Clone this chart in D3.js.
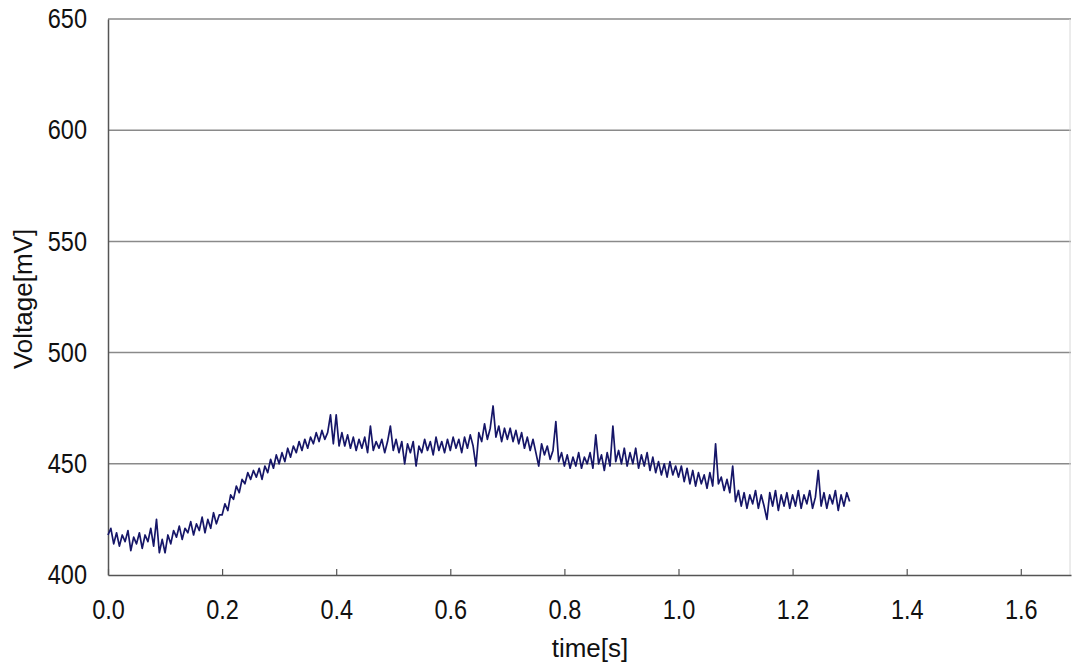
<!DOCTYPE html>
<html>
<head>
<meta charset="utf-8">
<script src="https://cdn.jsdelivr.net/npm/d3@7"></script>
<style>
  html, body { margin: 0; padding: 0; background: #fff; }
  svg { display: block; }
</style>
</head>
<body>
<div id="chart"></div>
<script>
// sample step of the trace (s) and voltage readings (mV), one row per 0.1 s
const timeStep = 0.005;
const voltage = [
  418, 421, 414, 419, 413, 418, 415, 420, 411, 417, 414, 419, 412, 418, 415, 421, 413, 425, 410, 416,
  410, 418, 414, 420, 417, 422, 416, 421, 419, 424, 418, 423, 420, 426, 419, 425, 421, 428, 423, 427,
  427, 432, 429, 436, 434, 440, 437, 443, 441, 446, 443, 447, 444, 448, 443, 449, 446, 452, 448, 454,
  450, 455, 451, 457, 453, 458, 455, 460, 456, 461, 457, 462, 459, 464, 460, 465, 461, 464, 472, 459,
  472, 458, 464, 458, 463, 457, 462, 456, 461, 457, 462, 455, 467, 456, 460, 457, 461, 455, 460, 467,
  456, 461, 455, 460, 450, 459, 455, 460, 449, 458, 455, 461, 456, 460, 454, 462, 456, 460, 455, 461,
  456, 462, 457, 461, 455, 462, 457, 463, 458, 449, 464, 460, 468, 461, 466, 476, 462, 467, 460, 466,
  461, 466, 460, 465, 459, 464, 457, 462, 456, 461, 455, 449, 459, 454, 458, 452, 456, 469, 451, 455,
  449, 454, 448, 453, 449, 455, 448, 453, 450, 455, 448, 463, 450, 454, 447, 455, 449, 467, 451, 456,
  450, 457, 449, 455, 450, 457, 448, 454, 449, 455, 447, 453, 446, 451, 445, 450, 444, 451, 445, 449,
  444, 449, 442, 448, 441, 447, 440, 446, 441, 445, 439, 446, 440, 459, 441, 444, 438, 443, 437, 449,
  433, 438, 431, 437, 430, 436, 432, 438, 430, 436, 431, 425, 437, 431, 438, 429, 436, 431, 437, 430,
  436, 431, 438, 430, 436, 432, 438, 430, 435, 447, 431, 437, 430, 436, 432, 438, 429, 436, 431, 437,
  433
];
const xTicks = [0, 0.2, 0.4, 0.6, 0.8, 1.0, 1.2, 1.4, 1.6];
const yTicks = [400, 450, 500, 550, 600, 650];

const width = 1072, height = 666;
const margin = { top: 19, right: 1, bottom: 91, left: 108 };
const innerW = width - margin.left - margin.right;
const innerH = height - margin.top - margin.bottom;

// tick numbers in the picture are set in a slightly condensed face
const squeeze = 0.87;

const data = voltage.map((v, i) => ({ t: i * timeStep, v: v }));

const svg = d3.select("#chart")
  .append("svg")
  .attr("width", width)
  .attr("height", height)
  .style("font-family", "'Liberation Sans', Arial, sans-serif");

const g = svg.append("g")
  .attr("transform", `translate(${margin.left}, ${margin.top})`);

// x range ends where the picture is cropped (~1.69 s)
const x = d3.scaleLinear().domain([0, 1.688]).range([0, innerW]);
const y = d3.scaleLinear().domain([400, 650]).range([innerH, 0]);

// horizontal gridlines
g.append("g")
  .selectAll("line")
  .data(yTicks.filter(d => d > 400))
  .enter()
  .append("line")
  .attr("x1", 0)
  .attr("x2", innerW)
  .attr("y1", d => y(d))
  .attr("y2", d => y(d))
  .attr("stroke", "#8a8a8a")
  .attr("stroke-width", 1.5);

// faint right edge of the plot area
g.append("line")
  .attr("x1", innerW - 1).attr("x2", innerW - 1)
  .attr("y1", 0).attr("y2", innerH)
  .attr("stroke", "#d8d8d8")
  .attr("stroke-width", 1);

// x axis, ticks pointing up into the plot
const xAxis = g.append("g")
  .attr("transform", `translate(0, ${innerH})`)
  .call(d3.axisBottom(x).tickValues(xTicks).tickFormat(d3.format(".1f"))
    .tickSizeInner(-6).tickSizeOuter(0).tickPadding(25));
xAxis.select(".domain").attr("stroke", "#555").attr("stroke-width", 1.5);
xAxis.selectAll(".tick line").attr("stroke", "#555").attr("stroke-width", 1.2);
xAxis.selectAll("text")
  .attr("font-size", 27)
  .attr("fill", "#111")
  .attr("transform", `scale(${squeeze}, 1)`);

// y axis
const yAxis = g.append("g")
  .call(d3.axisLeft(y).tickValues(yTicks).tickSizeInner(0).tickSizeOuter(0).tickPadding(21));
yAxis.select(".domain").attr("stroke", "#555").attr("stroke-width", 1.5);
yAxis.selectAll("text")
  .attr("font-size", 27)
  .attr("fill", "#111")
  .attr("x", 0)
  .attr("transform", `translate(-21, 0) scale(${squeeze}, 1)`);

// voltage trace
const line = d3.line().x(d => x(d.t)).y(d => y(d.v));
g.append("path")
  .datum(data)
  .attr("fill", "none")
  .attr("stroke", "#161668")
  .attr("stroke-width", 1.7)
  .attr("stroke-linejoin", "round")
  .attr("d", line);

// axis titles
svg.append("text")
  .attr("x", 590)
  .attr("y", 657)
  .attr("text-anchor", "middle")
  .attr("font-size", 26)
  .attr("fill", "#111")
  .text("time[s]");

svg.append("text")
  .attr("transform", "translate(32, 299) rotate(-90)")
  .attr("text-anchor", "middle")
  .attr("font-size", 26)
  .attr("fill", "#111")
  .text("Voltage[mV]");
</script>
</body>
</html>
